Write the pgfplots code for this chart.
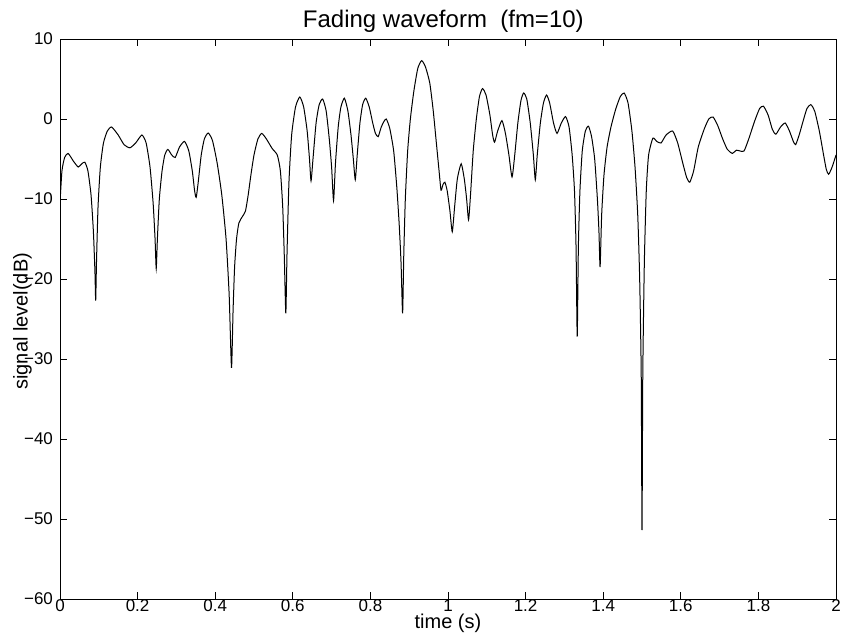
\documentclass[border=0pt]{standalone}
\usepackage{pgfplots}
\pgfplotsset{compat=1.18}
\usepackage{fontspec}
\setmainfont{Liberation Sans}
\pgfplotstableread{
t y
0.000 -10.5
0.005 -6.5
0.012 -4.8
0.021 -4.3
0.035 -5.3
0.047 -6.0
0.056 -5.6
0.064 -5.4
0.072 -6.5
0.080 -9.5
0.086 -14
0.090 -19
0.092 -22.7
0.094 -18
0.098 -11
0.104 -6
0.112 -3
0.122 -1.5
0.133 -1.0
0.150 -2.0
0.165 -3.2
0.180 -3.6
0.195 -3.0
0.211 -2.0
0.222 -3.0
0.232 -6
0.240 -10.5
0.245 -15
0.248 -18.7
0.251 -15
0.256 -10
0.263 -6.5
0.270 -4.5
0.278 -3.8
0.288 -4.5
0.297 -4.8
0.308 -3.5
0.321 -2.8
0.332 -4.0
0.341 -6.5
0.347 -9.0
0.351 -9.8
0.356 -8.0
0.364 -4.5
0.372 -2.5
0.382 -1.75
0.393 -2.7
0.405 -5.5
0.417 -9.5
0.428 -15
0.436 -22
0.442 -31.1
0.446 -24
0.450 -18.5
0.455 -15.0
0.461 -13.0
0.470 -12.2
0.478 -11.5
0.485 -9.5
0.492 -7.0
0.500 -4.5
0.510 -2.5
0.520 -1.8
0.532 -2.5
0.547 -3.7
0.560 -4.5
0.568 -6.5
0.574 -11
0.578 -17
0.582 -24.3
0.585 -17
0.590 -8
0.597 -2
0.607 1.5
0.618 2.75
0.628 1.5
0.637 -1.5
0.643 -5
0.647 -7.75
0.652 -5
0.660 -0.5
0.668 1.8
0.677 2.5
0.686 1.0
0.694 -2.5
0.700 -6
0.705 -10.2
0.710 -5.5
0.717 -1
0.724 1.5
0.733 2.6
0.742 1.0
0.750 -2
0.756 -5
0.761 -7.6
0.766 -4.5
0.773 -0.5
0.780 1.8
0.788 2.6
0.797 1.5
0.806 -0.5
0.813 -1.8
0.820 -2.2
0.828 -1.0
0.835 -0.3
0.841 0.0
0.850 -1.2
0.860 -4.0
0.868 -8.5
0.874 -13
0.879 -18
0.883 -24.3
0.886 -17
0.890 -10
0.896 -4
0.903 0.0
0.912 3.5
0.922 6.3
0.932 7.3
0.942 6.5
0.953 4.5
0.962 1.0
0.970 -3.0
0.977 -6.5
0.982 -8.9
0.987 -8.2
0.992 -7.9
0.998 -9.0
1.005 -11.5
1.011 -14.1
1.017 -11
1.024 -7.5
1.034 -5.6
1.042 -7.5
1.048 -10
1.053 -12.6
1.058 -9.5
1.065 -4
1.073 0.0
1.081 2.8
1.089 3.8
1.098 3.0
1.108 0.5
1.115 -2.0
1.120 -2.9
1.128 -1.5
1.139 -0.2
1.148 -1.8
1.157 -4.5
1.165 -7.25
1.172 -4.5
1.180 -0.5
1.188 2.3
1.195 3.25
1.203 2.5
1.212 -0.5
1.220 -4.5
1.225 -7.6
1.230 -4.5
1.238 -0.5
1.246 2.0
1.254 3.0
1.262 2.0
1.272 -0.5
1.281 -1.8
1.292 -0.5
1.303 0.3
1.312 -1.0
1.320 -4.5
1.326 -9
1.330 -16
1.333 -27.2
1.336 -16
1.340 -9
1.346 -4
1.354 -1.5
1.362 -0.9
1.370 -2.2
1.378 -5
1.385 -10
1.389 -14
1.392 -18.5
1.396 -12
1.402 -7
1.410 -3.5
1.420 -1.0
1.432 1.2
1.444 2.8
1.454 3.25
1.464 2.0
1.474 -1.5
1.482 -6
1.489 -12
1.494 -20
1.498 -32
1.500 -51.4
1.502 -32
1.506 -18
1.511 -9
1.517 -4.5
1.528 -2.4
1.538 -2.8
1.549 -3.0
1.562 -2.0
1.579 -1.5
1.592 -3.0
1.605 -5.5
1.615 -7.3
1.623 -7.9
1.633 -6.5
1.645 -3.5
1.660 -1.3
1.672 0.0
1.683 0.25
1.695 -0.8
1.708 -2.5
1.720 -3.8
1.733 -4.3
1.743 -3.9
1.753 -4.0
1.763 -4.0
1.775 -2.5
1.790 -0.3
1.803 1.3
1.813 1.6
1.825 0.5
1.836 -1.3
1.845 -1.9
1.857 -1.0
1.869 -0.5
1.880 -1.5
1.890 -2.8
1.896 -3.2
1.905 -2.0
1.915 -0.3
1.925 1.3
1.935 1.8
1.945 1.0
1.957 -1.5
1.968 -4.5
1.975 -6.3
1.981 -6.9
1.990 -6.0
2.000 -4.5
}\fading
\begin{document}
\begin{tikzpicture}
\useasboundingbox (-30pt,-17.5pt) rectangle (392pt,299.5pt);
\begin{axis}[
  scale only axis,
  width=388pt, height=280pt,
  xmin=0, xmax=2, ymin=-60, ymax=10,
  xtick={0,0.2,...,2.01},
  xticklabels={0,0.2,0.4,0.6,0.8,1,1.2,1.4,1.6,1.8,2},
  ytick={-60,-50,...,10},
  yticklabels={−60,−50,−40,−30,−20,−10,0,10},
  tick align=inside,
  major tick length=3.5pt,
  axis line style={black, line width=0.5pt},
  every tick/.style={black, line width=0.5pt},
  /pgf/number format/assume math mode=true,
  tick label style={font=\fontsize{8.5}{9}\selectfont},
  xticklabel style={anchor=north, inner sep=0pt, yshift=0pt},
  title={Fading waveform\ \ (fm=10)},
  title style={font=\fontsize{12}{13}\selectfont, at={(axis description cs:0.494,1)}, anchor=base},
  xlabel={time (s)},
  xlabel style={font=\fontsize{10}{11}\selectfont, at={(axis description cs:0.5,0)}, anchor=base, yshift=-14.5pt},
  ylabel={signal level(dB)},
  ylabel style={font=\fontsize{10}{11}\selectfont, at={(axis description cs:0,0.496)}, anchor=center, yshift=18.75pt},
]
\addplot[black, line width=0.5pt, smooth, tension=0.35] table[x=t,y=y] {\fading};
\end{axis}
\end{tikzpicture}
\end{document}
